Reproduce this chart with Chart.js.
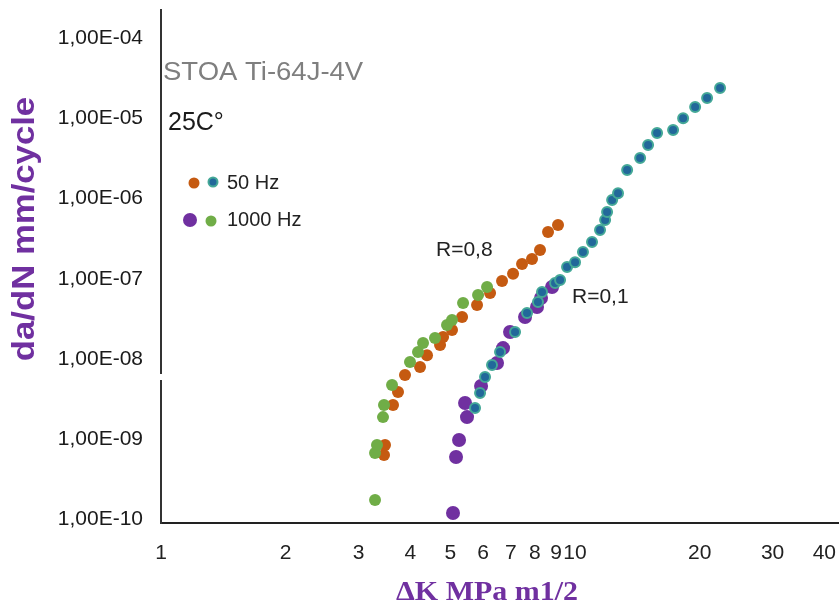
<!DOCTYPE html>
<html>
<head>
<meta charset="utf-8">
<script src="https://cdn.jsdelivr.net/npm/chart.js@4.4.1/dist/chart.umd.min.js"></script>
<style>
  body { margin: 0; background: #fff; }
  canvas { display: block; }
</style>
</head>
<body>
<canvas id="crack" width="839" height="611"></canvas>
<script>
// dK (MPa m1/2) and da/dN (mm/cycle)
const hz50R08X = [3.456, 3.476, 3.634, 3.736, 3.884, 4.223, 4.390, 4.720, 4.800, 5.045, 5.335, 5.798, 6.233, 6.663, 7.084, 7.447, 7.871, 8.230, 8.605, 9.097];
const hz50R08Y = [6.30e-10, 8.39e-10, 2.65e-9, 3.85e-9, 6.28e-9, 7.91e-9, 1.11e-8, 1.49e-8, 1.87e-8, 2.29e-8, 3.33e-8, 4.70e-8, 6.62e-8, 9.35e-8, 1.15e-7, 1.53e-7, 1.76e-7, 2.28e-7, 3.83e-7, 4.68e-7];

const hz1000R08X = [3.288, 3.288, 3.324, 3.437, 3.456, 3.614, 3.994, 4.176, 4.294, 4.590, 4.907, 5.045, 5.364, 5.831, 6.130];
const hz1000R08Y = [1.73e-10, 6.67e-10, 8.39e-10, 1.87e-9, 2.65e-9, 4.71e-9, 9.12e-9, 1.22e-8, 1.57e-8, 1.82e-8, 2.64e-8, 3.05e-8, 4.98e-8, 6.26e-8, 7.87e-8];

const hz50R01X = [5.734, 5.896, 6.062, 6.302, 6.589, 7.163, 7.656, 8.138, 8.322, 8.948, 9.200, 9.565, 10.0, 10.45, 10.99, 11.49, 11.82, 11.95, 12.29, 12.70, 13.36, 14.36, 15.01, 15.78, 17.25, 18.24, 19.50, 20.84, 22.40];
const hz50R01Y = [2.43e-9, 3.74e-9, 5.93e-9, 8.38e-9, 1.22e-8, 2.16e-8, 3.73e-8, 5.12e-8, 6.82e-8, 8.83e-8, 9.64e-8, 1.40e-7, 1.61e-7, 2.15e-7, 2.87e-7, 4.06e-7, 5.41e-7, 6.81e-7, 9.6e-7, 1.17e-6, 2.27e-6, 3.21e-6, 4.66e-6, 6.59e-6, 7.17e-6, 1.01e-5, 1.39e-5, 1.80e-5, 2.40e-5];

const hz1000R01X = [5.073, 5.159, 5.246, 5.484, 5.424, 5.929, 6.480, 6.700, 6.966, 7.572, 8.093, 8.276, 8.799];
const hz1000R01Y = [1.19e-10, 5.94e-10, 9.68e-10, 1.87e-9, 2.81e-9, 4.57e-9, 8.87e-9, 1.36e-8, 2.16e-8, 3.33e-8, 4.44e-8, 5.74e-8, 7.87e-8];

const xTicks = [1, 2, 3, 4, 5, 6, 7, 8, 9, 10, 20, 30, 40];
const yTicks = [1e-10, 1e-9, 1e-8, 1e-7, 1e-6, 1e-5, 1e-4];
const yTickLabels = ['1,00E-10', '1,00E-09', '1,00E-08', '1,00E-07', '1,00E-06', '1,00E-05', '1,00E-04'];

const toPoints = (xs, ys) => xs.map((x, i) => ({ x: x, y: ys[i] }));

const ORANGE = '#c55a11';
const GREEN = '#70ad47';
const PURPLE = '#7030a0';
const BLUE = '#22689a';
const TEAL = '#44a897';

// texts drawn on the plot (labels, legend, axis titles)
const notes = {
  id: 'notes',
  afterDraw(chart) {
    const ctx = chart.ctx;
    ctx.save();
    // small gap in the y axis line
    ctx.fillStyle = '#fff';
    ctx.fillRect(157, 374, 8, 6);

    ctx.textBaseline = 'middle';
    ctx.textAlign = 'left';
    ctx.font = '25px "Liberation Sans", Arial, sans-serif';
    ctx.fillStyle = '#7f7f7f';
    ctx.save();
    ctx.translate(163, 73);
    ctx.scale(1.1, 1);
    ctx.fillText('STOA Ti-64J-4V', 0, 0);
    ctx.restore();
    ctx.fillStyle = '#1a1a1a';
    ctx.fillText('25C°', 168, 123);

    const dot = (x, y, r, fill, stroke) => {
      ctx.beginPath();
      ctx.arc(x, y, r, 0, Math.PI * 2);
      ctx.fillStyle = fill;
      ctx.fill();
      if (stroke) { ctx.lineWidth = 2; ctx.strokeStyle = stroke; ctx.stroke(); }
    };
    dot(194, 183, 5.5, ORANGE);
    dot(213, 182, 4.5, BLUE, TEAL);
    dot(190, 220, 7, PURPLE);
    dot(211, 221, 5.5, GREEN);

    ctx.fillStyle = '#222';
    ctx.font = '20px "Liberation Sans", Arial, sans-serif';
    ctx.fillText('50 Hz', 227, 183);
    ctx.fillText('1000 Hz', 227, 220);
    ctx.font = '21px "Liberation Sans", Arial, sans-serif';
    ctx.fillText('R=0,8', 436, 250);
    ctx.fillText('R=0,1', 572, 297);

    ctx.fillStyle = PURPLE;
    ctx.textAlign = 'center';
    ctx.save();
    ctx.translate(487, 593);
    ctx.scale(1.07, 1);
    ctx.font = 'bold 28px "Liberation Serif", "Times New Roman", serif';
    ctx.fillText('ΔK MPa m1/2', 0, 0);
    ctx.restore();

    ctx.translate(25, 229);
    ctx.rotate(-Math.PI / 2);
    ctx.scale(1.12, 1);
    ctx.font = 'bold 31px "Liberation Sans", Arial, sans-serif';
    ctx.fillText('da/dN mm/cycle', 0, 0);
    ctx.restore();
  }
};

new Chart(document.getElementById('crack').getContext('2d'), {
  type: 'scatter',
  data: {
    datasets: [
      { label: '1000 Hz R=0,8', data: toPoints(hz1000R08X, hz1000R08Y), backgroundColor: GREEN, borderWidth: 0, pointRadius: 6 },
      { label: '50 Hz R=0,8', data: toPoints(hz50R08X, hz50R08Y), backgroundColor: ORANGE, borderWidth: 0, pointRadius: 6 },
      { label: '50 Hz R=0,1', data: toPoints(hz50R01X, hz50R01Y), backgroundColor: BLUE, borderColor: TEAL, borderWidth: 2, pointRadius: 5 },
      { label: '1000 Hz R=0,1', data: toPoints(hz1000R01X, hz1000R01Y), backgroundColor: PURPLE, borderWidth: 0, pointRadius: 7 }
    ]
  },
  options: {
    responsive: false,
    animation: false,
    layout: { autoPadding: false, padding: { top: 10, left: 0, right: 0, bottom: 0 } },
    plugins: {
      legend: { display: false },
      tooltip: { enabled: false }
    },
    scales: {
      x: {
        type: 'logarithmic',
        min: 1,
        max: 43.4,
        grid: { display: false },
        border: { display: true, color: '#222', width: 2 },
        afterFit: s => { s.height = 88; s.paddingLeft = 0; s.paddingRight = 0; },
        afterBuildTicks: s => { s.ticks = xTicks.map(v => ({ value: v })); },
        ticks: {
          autoSkip: false,
          maxRotation: 0,
          padding: 10,
          color: '#222',
          font: { family: '"Liberation Sans", Arial, sans-serif', size: 21 },
          callback: v => String(v)
        }
      },
      y: {
        type: 'logarithmic',
        min: 8.91e-11,
        max: 2.265e-4,
        grid: { display: false },
        border: { display: true, color: '#333', width: 2 },
        afterFit: s => { s.width = 161; s.paddingTop = 0; s.paddingBottom = 0; },
        afterBuildTicks: s => { s.ticks = yTicks.map(v => ({ value: v })); },
        ticks: {
          autoSkip: false,
          padding: 10,
          color: '#1a1a1a',
          font: { family: '"Liberation Sans", Arial, sans-serif', size: 21 },
          callback: v => yTickLabels[yTicks.indexOf(v)]
        }
      }
    }
  },
  plugins: [notes]
});
</script>
</body>
</html>
